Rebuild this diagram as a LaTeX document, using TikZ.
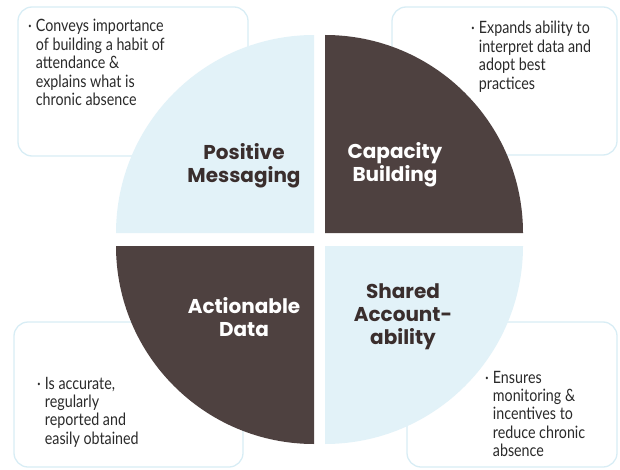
\documentclass[tikz,border=0pt]{standalone}
\usepackage{fontspec}
\newfontfamily\bodyfont[FakeStretch=0.84]{Lato}
\newfontfamily\titlefont{Poppins}
\definecolor{brownq}{HTML}{4E4140}
\definecolor{blueq}{HTML}{E2F2F8}
\definecolor{boxline}{HTML}{D8EDF5}
\definecolor{titledark}{HTML}{3A2E2D}
\definecolor{bodytext}{HTML}{2A2A2A}
\newcommand{\bullist}[1]{\begin{tabular}[t]{@{}l@{\hspace{4pt}}l@{}}#1\end{tabular}}
\tikzset{
  x=1pt, y=1pt,
  infobox/.style={draw=boxline, line width=1.3pt, rounded corners=14pt, fill=white},
  body/.style={font=\bodyfont\fontsize{17}{18.4}\selectfont, text=bodytext, inner sep=0pt, anchor=base west},
  titledark/.style={font=\titlefont\bfseries\fontsize{20}{23}\selectfont, text=titledark, align=center},
  titlelight/.style={font=\titlefont\bfseries\fontsize{20}{23}\selectfont, text=white, align=center}
}
\begin{document}
\begin{tikzpicture}
\useasboundingbox (0,0) rectangle (620,469);
% text boxes (behind)
\draw[infobox] (18,313) rectangle (248,462);
\draw[infobox] (392,314) rectangle (617,462);
\draw[infobox] (14,2) rectangle (243,147);
\draw[infobox] (407,2) rectangle (617,147);
% quadrants
\fill[blueq] (314,236) -- ++(-198,0) arc[start angle=180,end angle=90,radius=198] -- cycle;
\fill[brownq] (325,236) -- ++(0,198) arc[start angle=90,end angle=0,radius=198] -- cycle;
\fill[brownq] (314,223) -- ++(-198,0) arc[start angle=180,end angle=270,radius=198] -- cycle;
\fill[blueq] (325,223) -- ++(198,0) arc[start angle=0,end angle=-90,radius=198] -- cycle;
% titles
\node[titledark] (pm) at (244,303) {Positive\\Messaging};
\node[titlelight] (cb) at (395,304) {Capacity\\Building};
\node[titlelight] (ad) at (244,152) {Actionable\\Data};
\node[titledark] (sa) at (403,152) {Shared\\Account-\\ability};
% body texts
\node[body] (t1) at (28,437) {\bullist{·&Conveys importance\\&of building a habit of\\&attendance \&\\&explains what is\\&chronic absence}};
\node[body] (t2) at (471,435) {\bullist{·&Expands ability to\\&interpret data and\\&adopt best\\&practices}};
\node[body] (t3) at (37,80) {\bullist{·&Is accurate,\\&regularly\\&reported and\\&easily obtained}};
\node[body] (t4) at (485,86) {\bullist{·&Ensures\\&monitoring \&\\&incentives to\\&reduce chronic\\&absence}};
\end{tikzpicture}
\end{document}
